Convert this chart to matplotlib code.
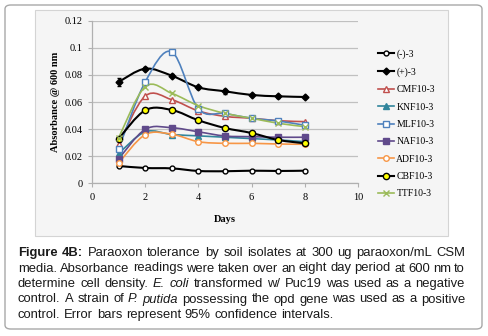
import matplotlib
matplotlib.use('Agg')
import matplotlib.pyplot as plt
import numpy as np
from matplotlib.path import Path
from matplotlib.patches import PathPatch, FancyBboxPatch, Rectangle
from matplotlib.lines import Line2D
from matplotlib.ticker import FormatStrFormatter

# données
days = [1, 2, 3, 4, 5, 6, 7, 8]
neg_ctrl = [0.0128, 0.0113, 0.0110, 0.0091, 0.0089, 0.0093, 0.0091, 0.0093]
pos_ctrl = [0.0748, 0.0846, 0.0794, 0.0708, 0.0679, 0.0652, 0.0642, 0.0637]
pos_err = [0.0030, 0.0010, 0.0010, 0.0010, 0.0020, 0.0010, 0.0010, 0.0010]
cmf = [0.0290, 0.0644, 0.0617, 0.0534, 0.0494, 0.0480, 0.0462, 0.0455]
knf = [0.0220, 0.0380, 0.0360, 0.0350, 0.0340, 0.0330, 0.0320, 0.0307]
mlf = [0.0255, 0.0748, 0.0970, 0.0550, 0.0516, 0.0480, 0.0460, 0.0428]
naf = [0.0180, 0.0398, 0.0410, 0.0380, 0.0349, 0.0344, 0.0340, 0.0340]
adf = [0.0150, 0.0359, 0.0362, 0.0307, 0.0295, 0.0295, 0.0290, 0.0288]
cbf = [0.0330, 0.0539, 0.0541, 0.0465, 0.0408, 0.0371, 0.0320, 0.0295]
ttf = [0.0335, 0.0713, 0.0664, 0.0573, 0.0516, 0.0480, 0.0443, 0.0418]

labels = ['(-)-3', '(+)-3', 'CMF10-3', 'KNF10-3', 'MLF10-3',
          'NAF10-3', 'ADF10-3', 'CBF10-3', 'TTF10-3']
yticks = [0, 0.02, 0.04, 0.06, 0.08, 0.1, 0.12]
xticks = [0, 2, 4, 6, 8, 10]

caption = [
    "#Figure #4B: Paraoxon tolerance by soil isolates at 300 ug paraoxon/mL CSM",
    "media. Absorbance readings were taken over an eight day period at 600 nm to",
    "determine cell density. *E. *coli transformed w/ Puc19 was used as a negative",
    "control. A strain of *P. *putida possessing the opd gene was used as a positive",
    "control. Error bars represent 95% confidence intervals.",
]

W, H = 489, 336
SERIF = 'Liberation Serif'
SANS = 'Liberation Sans'


def fx(x):
    return x / W


def fy(y):
    return 1 - y / H


def smooth_path(x, y):
    # courbe lissée façon Excel (Catmull-Rom -> Bézier)
    pts = np.column_stack([x, y])
    n = len(pts)
    verts = [pts[0]]
    codes = [Path.MOVETO]
    for i in range(n - 1):
        p0 = pts[max(i - 1, 0)]
        p1 = pts[i]
        p2 = pts[i + 1]
        p3 = pts[min(i + 2, n - 1)]
        verts += [p1 + (p2 - p0) / 6, p2 - (p3 - p1) / 6, p2]
        codes += [Path.CURVE4] * 3
    return Path(verts, codes)


fig = plt.figure(figsize=(W / 100, H / 100), dpi=100)

# cadre extérieur arrondi
fig.patches.append(FancyBboxPatch((fx(5), fy(329)), fx(477), (324) / H,
                                  boxstyle='round,pad=0,rounding_size=0.012',
                                  transform=fig.transFigure, facecolor='white',
                                  edgecolor='#a8a8a8', lw=1.0, zorder=0))
# zone du graphique
fig.patches.append(Rectangle((fx(35), fy(236)), fx(413), 226 / H,
                             transform=fig.transFigure, facecolor='#f5f5f5',
                             edgecolor='#d4d4d4', lw=0.8, zorder=0))

ax = fig.add_axes([fx(92), fy(183.3), 266 / W, 162.6 / H])
ax.set_zorder(2)
ax.set_facecolor('none')
ax.set_xlim(0, 10)
ax.set_ylim(0, 0.12)
ax.set_xticks(xticks)
ax.set_yticks(yticks)
ax.yaxis.set_major_formatter(FormatStrFormatter('%g'))
ax.grid(axis='y', color='#c0c0c0', lw=0.9)
ax.set_axisbelow(True)
for s in ['top', 'right']:
    ax.spines[s].set_visible(False)
for s in ['left', 'bottom']:
    ax.spines[s].set_color('#b0b0b0')
    ax.spines[s].set_linewidth(0.9)
ax.tick_params(length=3, width=0.8, color='#b0b0b0', labelsize=7.5, pad=4)
for t in ax.get_xticklabels() + ax.get_yticklabels():
    t.set_fontfamily(SERIF)
ax.set_ylabel('Absorbance @ 600 nm', fontfamily=SERIF, fontweight='bold',
              fontsize=7.5, labelpad=3)
ax.set_xlabel('Days', fontfamily=SERIF, fontweight='bold', fontsize=7.5, labelpad=9)

styles = [
    (neg_ctrl, '#000000', 'o', 'white', '#000000', 3.5, 1.5),
    (pos_ctrl, '#000000', 'D', '#000000', '#000000', 3.5, 1.5),
    (cmf, '#c0504d', '^', 'white', '#c0504d', 4.5, 1.2),
    (knf, '#31859c', '^', '#31859c', '#31859c', 4.5, 1.2),
    (mlf, '#4f81bd', 's', 'white', '#4f81bd', 5, 1.2),
    (naf, '#604a8b', 's', '#604a8b', '#604a8b', 5, 1.2),
    (adf, '#f79646', 'o', 'white', '#f79646', 4, 1.2),
    (cbf, '#000000', 'o', '#ffff00', '#000000', 4.5, 1.5),
    (ttf, '#9bbb59', 'x', '#9bbb59', '#9bbb59', 4.5, 1.2),
]

handles = []
for i, (vals, col, mk, mfc, mec, ms, lw) in enumerate(styles):
    ax.add_patch(PathPatch(smooth_path(days, vals), fill=False,
                           edgecolor=col, lw=lw, zorder=3 + i * 0.1))
    ax.plot(days, vals, linestyle='none', marker=mk, mfc=mfc, mec=mec, ms=ms,
            mew=1.0, zorder=4 + i * 0.1)
    handles.append(Line2D([], [], color=col, lw=lw, marker=mk, mfc=mfc,
                          mec=mec, ms=ms, mew=1.0))

ax.errorbar(days, pos_ctrl, yerr=pos_err, fmt='none', ecolor='#000000',
            elinewidth=0.8, capsize=1.5, zorder=5)

fig.legend(handles, labels, loc='upper left', bbox_to_anchor=(fx(374), fy(45.5)),
           frameon=False, prop={'family': SERIF, 'size': 7},
           handlelength=1.7, handletextpad=0.2, labelspacing=0.86,
           borderaxespad=0)

# légende de la figure, texte justifié
fig.canvas.draw()
renderer = fig.canvas.get_renderer()


def word_props(w, size):
    kw = {'fontfamily': SANS, 'fontsize': size, 'color': '#1a1a1a'}
    if w.startswith('#'):
        w = w[1:]
        kw['fontweight'] = 'bold'
    elif w.startswith('*'):
        w = w[1:]
        kw['fontstyle'] = 'italic'
    return w, kw


def measure(s, kw):
    t = fig.text(0, 0, s, **kw)
    wd = t.get_window_extent(renderer).width
    t.remove()
    return wd


def advance(s, kw):
    # largeur d'avance (pas seulement l'encre)
    return measure('|' + s + '|', kw) - measure('||', kw)


# taille de police ajustée à la dernière ligne
fs = 10 * 315 / measure(caption[-1], {'fontfamily': SANS, 'fontsize': 10})
space = advance(' ', {'fontfamily': SANS, 'fontsize': fs})

left, right = 18, 465
baselines = [256, 271.5, 287, 302.5, 318]
for k, line in enumerate(caption):
    words = [word_props(w, fs) for w in line.split(' ')]
    widths = [advance(w, kw) for w, kw in words]
    if k < len(caption) - 1:
        gap = (right - left - sum(widths)) / (len(words) - 1)
    else:
        gap = space
    x = left
    for (w, kw), wd in zip(words, widths):
        fig.text(x, H - baselines[k], w, transform=None, va='baseline', **kw)
        x += wd + gap

fig.savefig('out.png', dpi=100)
